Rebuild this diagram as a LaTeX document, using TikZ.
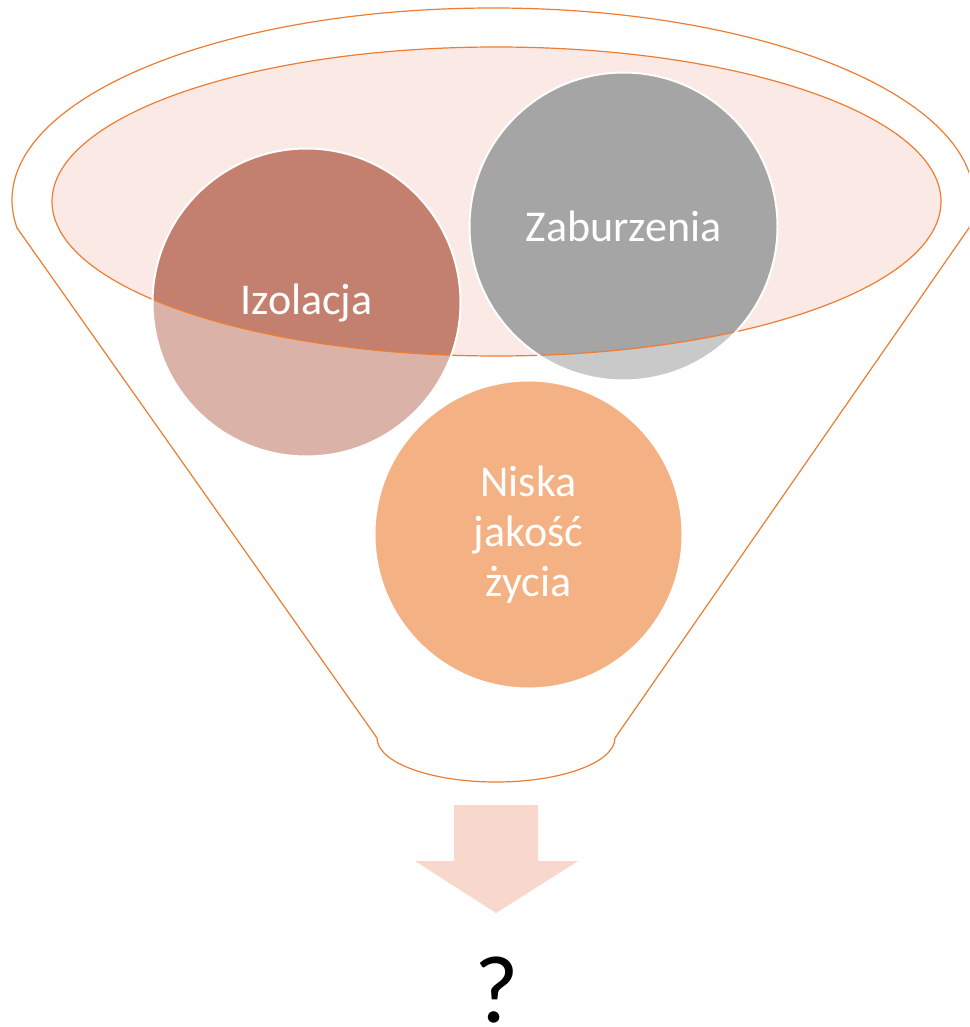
\documentclass[tikz,border=0pt]{standalone}
\usepackage{fontspec}
\setmainfont{Carlito}
\definecolor{rimline}{HTML}{ED7D31}
\definecolor{rimfill}{HTML}{FBE9E6}
\definecolor{browndark}{HTML}{C4806F}
\definecolor{brownlight}{HTML}{DBB2A8}
\definecolor{graydark}{HTML}{A5A5A5}
\definecolor{graylight}{HTML}{C9C9C9}
\definecolor{orangeball}{HTML}{F4B183}
\definecolor{arrowfill}{HTML}{F8D7CD}
\begin{document}
\begin{tikzpicture}[x=1pt,y=-1pt,
  ball/.style={circle, draw=white, line width=2pt, minimum size=308pt, inner sep=0pt,
    text=white, font=\fontsize{44}{50}\selectfont, align=center},
  rim/.style={draw=rimline, line width=1.2pt},
  qmark/.style={font=\fontsize{96}{100}\selectfont, text=black, inner sep=0pt}]
\useasboundingbox (0,0) rectangle (969,1027);
\fill[white] (0,0) rectangle (969,1027);
% centres
\coordinate (cI) at (306.5,302.5);
\coordinate (cZ) at (623.5,226.5);
\coordinate (cN) at (528.5,534.5);
\coordinate (cE) at (496.5,201.5);
% rim fill
\fill[rimfill] (cE) ellipse [x radius=444.5, y radius=154.5];
% light parts of circles
\fill[brownlight] (cI) circle [radius=154];
\fill[graylight] (cZ) circle [radius=154];
\fill[orangeball] (cN) circle [radius=154];
% dark parts inside the rim
\begin{scope}
  \clip (cE) ellipse [x radius=444.5, y radius=154.5];
  \fill[browndark] (cI) circle [radius=154];
  \fill[graydark] (cZ) circle [radius=154];
\end{scope}
% rim outline
\draw[rim] (cE) ellipse [x radius=444.5, y radius=154.5];
% funnel outline: top ellipse part
\begin{scope}
  \clip (0,0) rectangle (969,228);
  \draw[rim] (493,200) ellipse [x radius=481, y radius=192];
\end{scope}
% funnel sides and bottom
\coordinate (tl) at (17.1,228);
\coordinate (tr) at (968.9,228);
\coordinate (bl) at (377,738);
\coordinate (br) at (615,738);
\coordinate (bm) at (496,782);
\draw[rim, line join=round] (tl) -- (bl)
  .. controls (377,762.3) and (430.3,782) .. (bm)
  .. controls (561.7,782) and (615,762.3) .. (br) -- (tr);
% circle nodes with texts
\node[ball] (iz) at (cI) {Izolacja};
\node[ball] (zab) at (cZ) {Zaburzenia};
\node[ball] (nis) at (cN) {Niska\\jakość\\życia};
% arrow
\fill[arrowfill] (454,805) -- (538,805) -- (538,861) -- (578,861) -- (496,913)
  -- (415,861) -- (454,861) -- cycle;
% question mark
\node[qmark, anchor=base] (q) at (497,1022) {?};
\end{tikzpicture}
\end{document}
